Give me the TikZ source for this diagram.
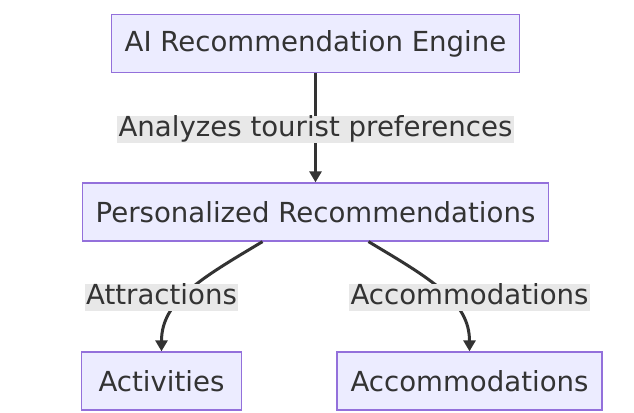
\documentclass[tikz,border=0pt]{standalone}
\usepackage{fontspec}
\usetikzlibrary{arrows.meta}
\newfontfamily\mmdfont{DejaVu Sans}
\definecolor{boxfill}{HTML}{ECECFF}
\definecolor{boxline}{HTML}{9370DB}
\definecolor{ink}{HTML}{333333}
\definecolor{tagfill}{HTML}{E8E8E8}
\tikzset{
  box/.style={draw=boxline,fill=boxfill,line width=1.3pt,minimum height=58pt,
    inner xsep=13.5pt,text=ink,font=\mmdfont\fontsize{27.6}{32}\selectfont},
  tag/.style={fill=tagfill,inner xsep=1.5pt,inner ysep=0.5pt,text height=20pt,
    text depth=6.5pt,text=ink,font=\mmdfont\fontsize{27.6}{32}\selectfont},
  flow/.style={draw=ink,line width=3pt,-{Triangle[length=11pt,width=12pt]}}
}
\begin{document}
\begin{tikzpicture}[x=1pt,y=1pt]
  \useasboundingbox (0,0) rectangle (634,-412);
      \coordinate (E) at (315.5,-43.5);
         \coordinate (T) at (315.5,-129.5);
           \coordinate (R) at (315.5,-212);
            \coordinate (S) at (161.5,-297.5);
              \coordinate (H) at (469.5,-297.5);
                 \coordinate (V) at (161.5,-381);
                   \coordinate (C) at (469.5,-381);
                \node (eng) at (E)[box]{AI Recommendation Engine};
             \node (rec) at (R)[box]{Personalized Recommendations};
          \node (act) at (V)[box,minimum width=160pt]{Activities};
       \node (acc) at (C)[box]{Accommodations};
  \draw[flow] (eng)--(rec);
  \draw[flow] ([xshift=-53pt]rec.south) .. controls +(-62,-37) and +(0,50) .. (act.north);
  \draw[flow] ([xshift=53pt]rec.south) .. controls +(62,-37) and +(0,50) .. (acc.north);
     \node (t1) at (T)[tag]{Analyzes tourist preferences};
  \node (t2) at (S)[tag]{Attractions};
   \node (t3) at (H)[tag]{Accommodations};
\end{tikzpicture}
\end{document}
